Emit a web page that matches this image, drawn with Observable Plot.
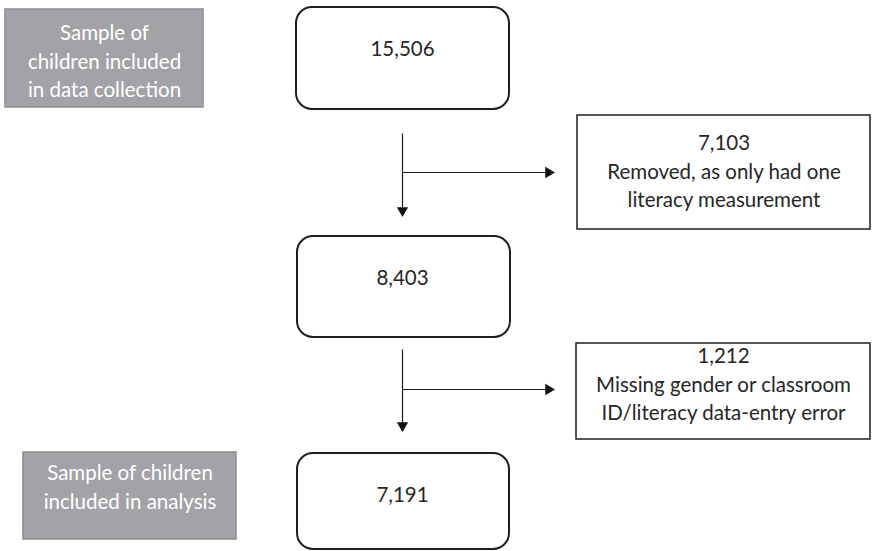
<!DOCTYPE html>
<html>
<head>
<meta charset="utf-8">
<script src="https://cdn.jsdelivr.net/npm/d3@7"></script>
<script src="https://cdn.jsdelivr.net/npm/@observablehq/plot@0.6"></script>
<style>
  html, body { margin: 0; padding: 0; background: #fff; }
  #chart svg { display: block; }
</style>
</head>
<body>
<div id="chart"></div>
<script>
// ---- data ----
const stageCounts = [15506, 8403, 7191];
const removedCounts = [7103, 1212];
const removedReasons = [
  "Removed, as only had one\nliteracy measurement",
  "Missing gender or classroom\nID/literacy data-entry error"
];
const sideLabels = [
  "Sample of\nchildren included\nin data collection",
  "Sample of children\nincluded in analysis"
];

// ---- layout (pixel coordinates of the flow diagram) ----
const W = 872, H = 551;
const stageBox = [
  {x1: 296, x2: 509, y1: 7, y2: 109},
  {x1: 297, x2: 510, y1: 236, y2: 337},
  {x1: 297, x2: 509, y1: 453, y2: 549}
];
const removedBox = [
  {x1: 577, x2: 870, y1: 115, y2: 229, ty: 169},
  {x1: 576, x2: 870, y1: 343, y2: 439, ty: 382}
];
const sideBox = [
  {x1: 5, x2: 203, y1: 9, y2: 107, ty: 59},
  {x1: 23, x2: 236, y1: 452, y2: 539, ty: 485}
];
const flowX = 402;
const downArrow = [{y1: 133, y2: 210}, {y1: 349, y2: 425}];
const branchY = [172, 389];
const branchEnd = 548;

const fmt = d3.format(",");
const stages = stageCounts.map((c, i) => ({...stageBox[i], label: fmt(c), tx: flowX, ty: stageBox[i].y1 + 42}));
const removed = removedCounts.map((c, i) => ({
  ...removedBox[i],
  label: fmt(c) + "\n" + removedReasons[i],
  tx: (removedBox[i].x1 + removedBox[i].x2) / 2
}));
const sides = sideLabels.map((s, i) => ({
  ...sideBox[i], label: s,
  tx: (sideBox[i].x1 + sideBox[i].x2) / 2
}));
const downs = downArrow.map(d => ({x: flowX, ...d}));
const branches = branchY.map(y => ({x1: flowX, x2: branchEnd, y}));

const font = "Lato, 'Open Sans', sans-serif";
const fs = 20.5;

const chart = Plot.plot({
  width: W,
  height: H,
  margin: 0,
  x: {domain: [0, W], axis: null},
  y: {domain: [0, H], reverse: true, axis: null},
  style: {fontFamily: font, background: "#fff"},
  marks: [
    // grey side labels
    Plot.rect(sides, {x1: "x1", x2: "x2", y1: "y1", y2: "y2", fill: "#a3a3a7", stroke: "#8c8c90", strokeWidth: 1.5}),
    Plot.text(sides, {x: "tx", y: "ty", text: "label", fill: "#ffffff", fontSize: fs, lineHeight: 1.37}),
    // stage boxes
    Plot.rect(stages, {x1: "x1", x2: "x2", y1: "y1", y2: "y2", fill: "none", stroke: "#1e1e1e", strokeWidth: 2, rx: 16}),
    Plot.text(stages, {x: "tx", y: "ty", text: "label", fill: "#262626", fontSize: fs}),
    // removed boxes
    Plot.rect(removed, {x1: "x1", x2: "x2", y1: "y1", y2: "y2", fill: "none", stroke: "#1e1e1e", strokeWidth: 1.5}),
    Plot.text(removed, {x: "tx", y: "ty", text: "label", fill: "#262626", fontSize: fs, lineHeight: 1.4}),
    // arrows
    Plot.link(downs, {x1: "x", x2: "x", y1: "y1", y2: "y2", stroke: "#1e1e1e", strokeWidth: 1.2}),
    Plot.dot(downs, {x: "x", y: "y2", symbol: "triangle", r: 4.2, fill: "#111", stroke: "none", rotate: 180}),
    Plot.link(branches, {x1: "x1", x2: "x2", y1: "y", y2: "y", stroke: "#1e1e1e", strokeWidth: 1.2}),
    Plot.dot(branches, {x: "x2", y: "y", symbol: "triangle", r: 4.2, fill: "#111", stroke: "none", rotate: 90})
  ]
});
document.getElementById("chart").appendChild(chart);
</script>
</body>
</html>
